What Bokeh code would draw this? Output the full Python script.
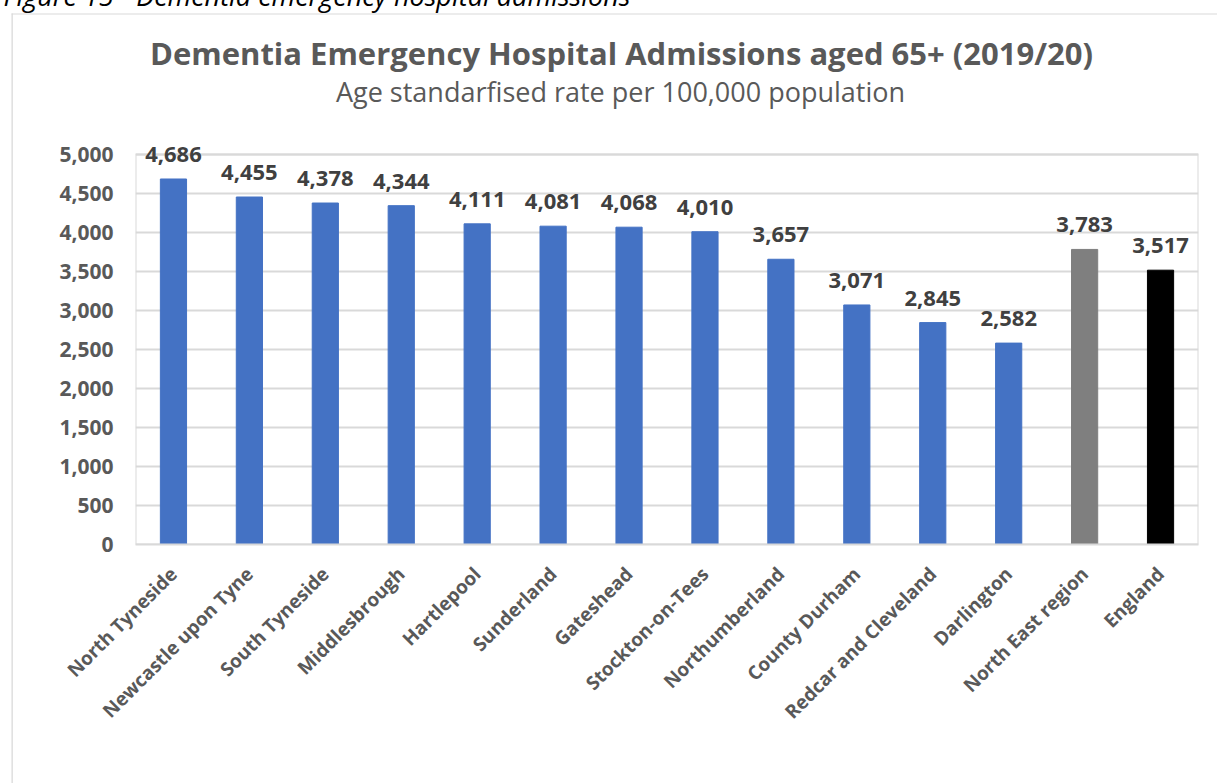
from math import pi

from bokeh.core.properties import value
from bokeh.embed import file_html
from bokeh.models import (ColumnDataSource, FactorRange, FixedTicker, Label,
                          LabelSet, NumeralTickFormatter, Range1d)
from bokeh.plotting import figure
from bokeh.resources import INLINE

# Dementia emergency admissions, age standardised rate per 100,000 (65+)
areas = [
    "North Tyneside", "Newcastle upon Tyne", "South Tyneside", "Middlesbrough",
    "Hartlepool", "Sunderland", "Gateshead", "Stockton-on-Tees",
    "Northumberland", "County Durham", "Redcar and Cleveland", "Darlington",
    "North East region", "England",
]
rates = [4686, 4455, 4378, 4344, 4111, 4081, 4068, 4010,
         3657, 3071, 2845, 2582, 3783, 3517]
bar_colors = ["#4472C4"] * 12 + ["#7F7F7F", "#000000"]
y_ticks = list(range(0, 5001, 500))

W, H = 1217, 783
FL, FR, FB = 135, 1198, 544      # plot-area left / right / bottom on the canvas
AREA_TOP = 154                   # canvas row of the top gridline
FT = 128                         # frame top (room for the tallest value label)
GREY = "#D9D9D9"
TXT = "#595959"

y_top = y_ticks[-1]
px_per_unit = (FB - AREA_TOP) / y_top
y_end = y_top + (AREA_TOP - FT) / px_per_unit
n = len(areas)


def dx(px):
    """canvas column -> x data coordinate"""
    return (px - FL) * n / (FR - FL)


def dy(py):
    """canvas row -> y data coordinate"""
    return (FB - py) / px_per_unit


src = ColumnDataSource(dict(
    area=areas,
    rate=rates,
    color=bar_colors,
    label=[f"{v:,}" for v in rates],
))

p = figure(
    width=W, height=H,
    x_range=FactorRange(*areas, range_padding=0),
    y_range=Range1d(0, y_end),
    output_backend="svg", toolbar_location=None,
    min_border_left=FL, min_border_right=W - FR,
    min_border_top=FT, min_border_bottom=H - FB,
    background_fill_color="white", border_fill_color="white",
)
p.outline_line_color = None

# plot-area border, from the first to the last category and up to the top tick
p.quad(left=0, right=n, bottom=0, top=y_top,
       fill_color=None, line_color=GREY, line_width=2)

p.vbar(x="area", top="rate", width=0.345, color="color", source=src)

p.add_layout(LabelSet(
    x="area", y="rate", text="label", source=src,
    text_align="center", text_baseline="alphabetic", y_offset=17,
    text_font=value("Open Sans"), text_font_style="bold",
    text_font_size="22px", text_color="#404040",
))

# axes
p.yaxis.ticker = FixedTicker(ticks=y_ticks)
p.yaxis.formatter = NumeralTickFormatter(format="0,0")
p.yaxis.axis_line_color = None
p.yaxis.major_tick_line_color = None
p.yaxis.minor_tick_line_color = None
p.yaxis.major_label_standoff = 16
p.yaxis.major_label_text_font = "Open Sans"
p.yaxis.major_label_text_font_style = "bold"
p.yaxis.major_label_text_font_size = "21px"
p.yaxis.major_label_text_color = TXT

p.xaxis.axis_line_color = GREY
p.xaxis.axis_line_width = 2
p.xaxis.major_tick_line_color = None
p.xaxis.minor_tick_line_color = None
p.xaxis.major_label_orientation = pi / 4
p.xaxis.major_label_standoff = 20
p.xaxis.major_label_text_font = "Open Sans"
p.xaxis.major_label_text_font_style = "bold"
p.xaxis.major_label_text_font_size = "19px"
p.xaxis.major_label_text_color = TXT

p.xgrid.grid_line_color = None
p.ygrid.grid_line_color = GREY
p.ygrid.grid_line_width = 2


def text_label(text, cx, cy, **kw):
    return Label(x=dx(cx), y=dy(cy), text=text,
                 text_baseline="alphabetic", **kw)


# headings
p.add_layout(text_label(
    "Dementia Emergency Hospital Admissions aged 65+ (2019/20)", 621, 52,
    text_font="Open Sans", text_font_style="bold",
    text_font_size="31px", text_color=TXT, text_align="center"), "above")
p.add_layout(text_label(
    "Age standarfised rate per 100,000 population", 620, 91,
    text_font="Open Sans", text_font_size="27px",
    text_color=TXT, text_align="center"), "above")

# figure caption above the chart box
p.add_layout(text_label(
    "Figure 15 - Dementia emergency hospital admissions", 3, -5,
    text_font="Open Sans", text_font_style="italic",
    text_font_size="27px", text_color="#000000", text_align="left"), "below")

# chart box edges (top and left)
p.add_layout(Label(x=dx(11), y=dy(13), text=" ", text_font_size="1px",
                   text_align="left", text_baseline="top",
                   padding=(1, W, 0, 0), background_fill_color=GREY), "above")
p.add_layout(Label(x=dx(11), y=dy(13), text=" ", text_font_size="1px",
                   text_align="left", text_baseline="top",
                   padding=(0, 1, H, 0), background_fill_color=GREY), "left")

open("out.html", "w").write(file_html(p, INLINE))
